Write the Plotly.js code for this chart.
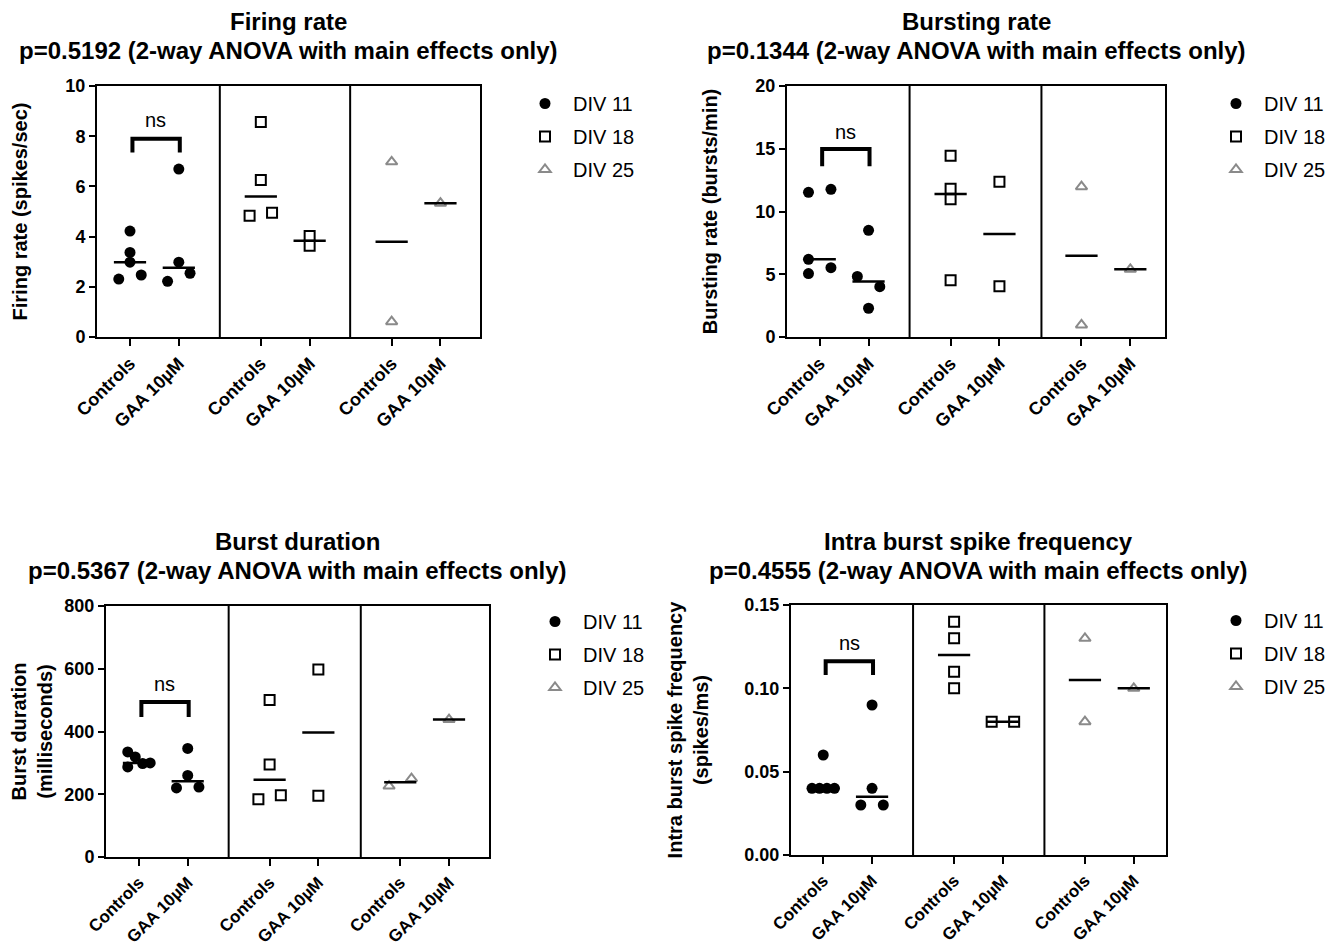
<!DOCTYPE html>
<html><head><meta charset="utf-8">
<script src="https://cdn.plot.ly/plotly-3.0.1.min.js"></script>
<style>html,body{margin:0;padding:0;background:#fff}</style>
</head><body><div id="chart" style="width:1340px;height:946px"></div>
<script>
// ---------- data ----------
const categories = ["Controls", "GAA 10µM"];
const divLabels = ["DIV 11", "DIV 18", "DIV 25"];
const panelTitles = ["Firing rate", "Bursting rate", "Burst duration", "Intra burst spike frequency"];
const pValues = ["0.5192", "0.1344", "0.5367", "0.4555"];
const yTitles = ["Firing rate (spikes/sec)", "Bursting rate (bursts/min)", "Burst duration<br>(milliseconds)", "Intra burst spike frequency<br>(spikes/ms)"];

// groups: [Controls DIV11, GAA DIV11, Controls DIV18, GAA DIV18, Controls DIV25, GAA DIV25]
const firingRate     = [[4.22,3.37,2.98,2.31,2.47],[6.69,2.98,2.22,2.54],[8.57,6.25,4.83,4.95],[4.02,3.64],[6.98,0.61],[5.33]];
const burstingRate   = [[11.53,11.77,6.19,5.05,5.52],[8.50,4.83,4.01,2.29],[14.45,11.82,10.97,4.52],[12.38,4.04],[11.98,0.96],[5.39]];
const burstDuration  = [[335,319,287,298,300],[346,260,220,223],[500,295,184,197],[598,195],[226,250],[438]];
const intraBurstFreq = [[0.06,0.04,0.04,0.04,0.04],[0.09,0.04,0.03,0.03],[0.14,0.13,0.11,0.10],[0.08,0.08],[0.13,0.08],[0.10]];

// horizontal scatter spread of points (in symbol widths)
const firingJitter   = [[0,0,0,-1,1],[0,0,-1,1],[0,0,-1,1],[0,0],[0,0],[0]];
const burstingJitter = [[-1,1,-1,-1,1],[0,-1,1,0],[0,0,0,0],[0,0],[0,0],[0]];
const durationJitter = [[-1,-0.33,-1,0.33,1],[0,0,-1,1],[0,0,-1,1],[0,0],[-1,1],[0]];
const intraJitter    = [[0,-1,-0.33,0.33,1],[0,0,-1,1],[0,0,0,0],[-1,1],[0,0],[0]];

// "ns" comparison bracket levels: [bottom, top, label]
const nsLevels = [[7.35,7.9,8.65],[13.6,14.98,16.35],[446,494,550],[0.108,0.1163,0.127]];

const yRanges = [[0,10],[0,20],[0,800],[0,0.15]];
const yDticks = [2,5,200,0.05];
const yFormats = ["", "", "", ".2f"];

// ---------- layout geometry ----------
const W = 1340, H = 946;
const FONT = "Liberation Sans, Arial, Helvetica, sans-serif";
const xPos = [0, 1, 2.68, 3.68, 5.36, 6.36];
const JIT = 0.23, MEDHALF = 0.33;
const geom = [
  {l:97,  r:480,  t:86,  b:337, xr:[-0.676,7.17], div:[1.84,4.51], leg:[517,84],  ys:32, tt:[21,50],   xf:18},
  {l:787, r:1165, t:86,  b:337, xr:[-0.67,7.07],  div:[1.84,4.54], leg:[1208,84], ys:32, tt:[21,50],   xf:18},
  {l:106, r:489,  t:606, b:857, xr:[-0.676,7.18], div:[1.84,4.55], leg:[527,602], ys:6,  tt:[541,570], xf:17},
  {l:791, r:1166, t:605, b:855, xr:[-0.66,7.02],  div:[1.84,4.53], leg:[1208,601], ys:30, tt:[541,570], xf:17}
];
const datasets = [firingRate, burstingRate, burstDuration, intraBurstFreq];
const jitters = [firingJitter, burstingJitter, durationJitter, intraJitter];

const markerStyles = [
  {symbol:"circle", size:11, color:"#000", line:{width:0}},
  {symbol:"square-open", size:10, color:"#000", line:{width:2, color:"#000"}},
  {symbol:"triangle-up-open", size:10, color:"#8a8a8a", line:{width:2, color:"#8a8a8a"}}
];

function median(a){
  const s = a.slice().sort((p,q)=>p-q); const n = s.length;
  return n % 2 ? s[(n-1)/2] : (s[n/2-1] + s[n/2]) / 2;
}

const traces = [];
const layout = {
  width: W, height: H, margin:{l:0,r:0,t:0,b:0},
  paper_bgcolor:"#fff", plot_bgcolor:"#fff",
  font:{family:FONT, color:"#000"},
  showlegend:true, annotations:[], shapes:[]
};

geom.forEach((g, i) => {
  const n = i + 1;
  const xa = n === 1 ? "x" : "x" + n;
  const ya = n === 1 ? "y" : "y" + n;
  const legId = n === 1 ? "legend" : "legend" + n;
  const vals = datasets[i], jit = jitters[i];

  // points
  divLabels.forEach((lab, d) => {
    const xs = [], ys = [];
    for (let c = 0; c < 2; c++) {
      const k = d*2 + c;
      vals[k].forEach((v, j) => { xs.push(xPos[k] + jit[k][j]*JIT); ys.push(v); });
    }
    traces.push({type:"scatter", mode:"markers", x:xs, y:ys, xaxis:xa, yaxis:ya,
      name:lab, legend:legId, legendgroup:"p"+n+"d"+d, marker:markerStyles[d],
      hoverinfo:"skip", cliponaxis:false});
  });

  // median lines
  const mx = [], my = [];
  vals.forEach((arr, k) => { const m = median(arr); mx.push(xPos[k]-MEDHALF, xPos[k]+MEDHALF, null); my.push(m, m, null); });
  traces.push({type:"scatter", mode:"lines", x:mx, y:my, xaxis:xa, yaxis:ya, showlegend:false,
    line:{color:"#000", width:2.5}, hoverinfo:"skip", cliponaxis:false});

  // ns bracket
  const ns = nsLevels[i];
  traces.push({type:"scatter", mode:"lines", x:[xPos[0]+0.05, xPos[0]+0.05, xPos[1]+0.02, xPos[1]+0.02],
    y:[ns[0], ns[1], ns[1], ns[0]], xaxis:xa, yaxis:ya, showlegend:false,
    line:{color:"#000", width:4}, hoverinfo:"skip"});
  layout.annotations.push({xref:xa, yref:ya, x:(xPos[0]+xPos[1])/2 + 0.03, y:ns[2], text:"ns", showarrow:false,
    font:{size:20, family:FONT, color:"#000"}, xanchor:"center", yanchor:"middle"});

  // group dividers
  g.div.forEach(dv => layout.shapes.push({type:"line", xref:xa, yref:ya+" domain", x0:dv, x1:dv, y0:0, y1:1,
    line:{color:"#000", width:2}}));

  // axes
  layout["xaxis" + (n===1?"":n)] = {
    domain:[g.l/W, g.r/W], anchor:ya, range:g.xr, showgrid:false, zeroline:false,
    showline:true, linecolor:"#000", linewidth:2, mirror:true,
    ticks:"outside", ticklen:7, tickwidth:2, tickcolor:"#000",
    tickmode:"array", tickvals:xPos, ticktext:[categories[0],categories[1],categories[0],categories[1],categories[0],categories[1]],
    tickangle:-45, tickfont:{size:g.xf, family:FONT, weight:700, color:"#000"}, fixedrange:true
  };
  layout["yaxis" + (n===1?"":n)] = {
    domain:[1 - g.b/H, 1 - g.t/H], anchor:xa, range:yRanges[i], dtick:yDticks[i], tick0:0, tickformat:yFormats[i],
    showgrid:false, zeroline:false, showline:true, linecolor:"#000", linewidth:2, mirror:true,
    ticks:"outside", ticklen:6, tickwidth:2, tickcolor:"#000",
    tickfont:{size:18, family:FONT, weight:700, color:"#000"},
    title:{text:yTitles[i], font:{size:20, family:FONT, weight:700, color:"#000"}, standoff:g.ys}, fixedrange:true
  };

  // panel title (two lines)
  const cx = (g.l+g.r)/2/W;
  layout.annotations.push({xref:"paper", yref:"paper", x:cx, y:1 - g.tt[0]/H,
    text:"<b>" + panelTitles[i] + "</b>", showarrow:false, xanchor:"center", yanchor:"middle",
    font:{size:24, family:FONT, color:"#000"}});
  layout.annotations.push({xref:"paper", yref:"paper", x:cx, y:1 - g.tt[1]/H,
    text:"<b>p=" + pValues[i] + " (2-way ANOVA with main effects only)</b>", showarrow:false, xanchor:"center", yanchor:"middle",
    font:{size:24, family:FONT, color:"#000"}});

  // legend
  layout[legId] = {x:g.leg[0]/W, y:1 - g.leg[1]/H, xanchor:"left", yanchor:"top",
    font:{size:20, family:FONT, color:"#000"}, itemwidth:46, traceorder:"grouped", tracegroupgap:4,
    bgcolor:"rgba(0,0,0,0)", borderwidth:0};
});

Plotly.newPlot("chart", traces, layout, {displayModeBar:false, staticPlot:true});
</script>
</body></html>
